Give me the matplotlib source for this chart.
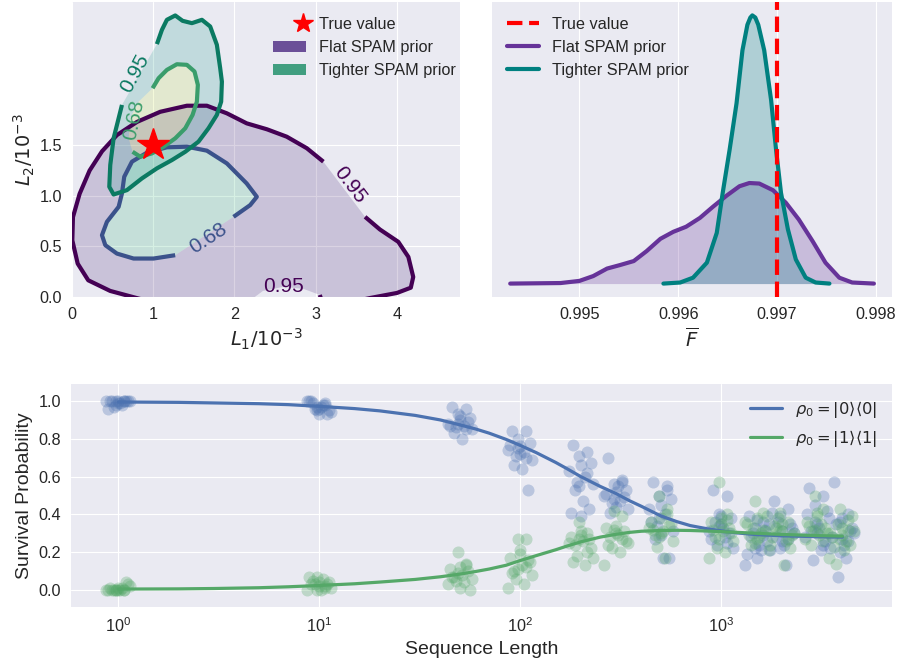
import matplotlib.pyplot as plt
import numpy as np
from matplotlib.path import Path
from matplotlib.patches import PathPatch, Patch
from matplotlib.lines import Line2D
from matplotlib.legend_handler import HandlerLine2D

plt.style.use("seaborn-v0_8-darkgrid")
plt.rcParams["font.family"] = ["Liberation Sans", "DejaVu Sans"]

# ---- credible regions (L1, L2 in units of 1e-3) ----
flat_95_L1 = [0.84, 0.47, 0.20, 0.07, 0.004, 0.012, 0.094, 0.217, 0.37, 0.553, 0.80, 1.086,
              1.414, 1.66, 1.906, 2.15, 2.40, 2.643, 2.89, 3.094, 3.607, 3.79, 4.016, 4.14,
              4.20, 4.17, 4.0, 3.67, 3.38, 3.07, 3.05, 2.85, 2.6, 2.35, 2.2, 1.6]
flat_95_L2 = [-0.02, 0.06, 0.165, 0.33, 0.56, 0.79, 1.02, 1.25, 1.44, 1.60, 1.73, 1.83,
              1.89, 1.89, 1.815, 1.716, 1.657, 1.584, 1.47, 1.337, 0.792, 0.667, 0.545, 0.396,
              0.198, 0.092, 0.04, -0.01, -0.06, -0.03, 0.02, 0.08, 0.10, 0.06, -0.03, -0.08]
flat_95_pieces = [(0, 19), (20, 30), (34, 36)]

flat_68_L1 = [1.27, 1.004, 0.758, 0.553, 0.41, 0.369, 0.43, 0.574, 0.615, 0.643, 0.738,
              0.922, 1.168, 1.414, 1.66, 1.906, 2.15, 2.275, 2.193, 1.988]
flat_68_L2 = [0.413, 0.38, 0.38, 0.429, 0.512, 0.611, 0.743, 0.891, 1.023, 1.188, 1.337,
              1.426, 1.479, 1.485, 1.446, 1.32, 1.122, 0.99, 0.908, 0.792]
flat_68_pieces = [(0, 19)]

tight_95_L1 = [1.045, 1.107, 1.168, 1.271, 1.361, 1.476, 1.599, 1.701, 1.783, 1.824, 1.845,
               1.836, 1.783, 1.680, 1.557, 1.394, 1.230, 1.045, 0.861, 0.676, 0.512, 0.459,
               0.471, 0.512, 0.574, 0.615]
tight_95_L2 = [2.499, 2.640, 2.739, 2.782, 2.729, 2.706, 2.739, 2.673, 2.492, 2.261, 2.128,
               1.930, 1.799, 1.667, 1.535, 1.435, 1.353, 1.271, 1.172, 1.056, 1.013, 1.089,
               1.304, 1.568, 1.766, 1.898]
tight_95_pieces = [(0, 25)]

tight_68_L1 = [0.992, 1.066, 1.168, 1.291, 1.414, 1.508, 1.549, 1.537, 1.484, 1.394, 1.271,
               1.127, 0.984, 0.840, 0.746, 0.697, 0.717, 0.820]
tight_68_L2 = [2.063, 2.162, 2.244, 2.300, 2.294, 2.228, 2.096, 1.930, 1.799, 1.667, 1.568,
               1.485, 1.419, 1.386, 1.435, 1.568, 1.766, 1.930]
tight_68_pieces = [(0, 14)]

# contour labels: text, L1, L2, rotation
flat_labels = [("0.95", 3.42, 1.105, -53), ("0.95", 2.60, 0.10, 0), ("0.68", 1.68, 0.578, 33)]
tight_labels = [("0.95", 0.77, 2.21, 62), ("0.68", 0.758, 1.749, 78)]
true_L1, true_L2 = 1.0, 1.5

# ---- average gate fidelity posteriors (density, scaled to the taller peak) ----
flat_F = [0.99430, 0.99481, 0.99500, 0.99514, 0.99528, 0.99541, 0.99555, 0.99568, 0.99582,
          0.99595, 0.99608, 0.99622, 0.99635, 0.99649, 0.99662, 0.99672, 0.99682, 0.99696,
          0.99709, 0.99722, 0.99736, 0.99749, 0.99763, 0.99776, 0.99798]
flat_dens = [0.0, 0.002, 0.01, 0.028, 0.056, 0.069, 0.084, 0.121, 0.167, 0.193, 0.212, 0.245,
             0.286, 0.328, 0.363, 0.375, 0.373, 0.348, 0.301, 0.239, 0.158, 0.078, 0.022,
             0.004, 0.0]
tight_F = [0.99585, 0.99602, 0.99615, 0.99629, 0.99639, 0.99645, 0.99652, 0.99659, 0.99665,
           0.99670, 0.99673, 0.99675, 0.99678, 0.99681, 0.99687, 0.99694, 0.99699, 0.99704,
           0.99711, 0.99719, 0.99729, 0.99739, 0.99753]
tight_dens = [0.0, 0.004, 0.022, 0.078, 0.189, 0.338, 0.499, 0.672, 0.870, 0.965, 0.992, 1.0,
              0.992, 0.965, 0.870, 0.684, 0.499, 0.338, 0.202, 0.090, 0.022, 0.004, 0.0]
true_F = 0.997

# ---- randomized benchmarking data ----
seq_lengths = [1, 10, 50, 100, 200, 300, 500, 1000, 1500, 2000, 3000, 4000]
surv_0 = [
    [1.0, 1.0, 1.0, 1.0, 0.99, 1.0, 0.98, 0.97, 1.0, 1.0, 0.99, 1.0, 0.96, 1.0, 1.0, 0.98],
    [1.0, 0.99, 0.97, 0.95, 0.93, 1.0, 0.98, 0.96, 0.94, 0.99, 0.97, 0.93, 1.0, 0.96, 0.98, 0.95],
    [0.97, 0.96, 0.93, 0.91, 0.90, 0.88, 0.87, 0.86, 0.85, 0.83, 0.80, 0.89, 0.87, 0.92, 0.85, 0.88],
    [0.84, 0.84, 0.80, 0.78, 0.76, 0.74, 0.73, 0.71, 0.69, 0.66, 0.64, 0.53, 0.77, 0.72, 0.70, 0.75],
    [0.77, 0.73, 0.71, 0.67, 0.66, 0.63, 0.60, 0.57, 0.56, 0.53, 0.47, 0.43, 0.41, 0.39, 0.62, 0.55],
    [0.70, 0.57, 0.56, 0.53, 0.52, 0.50, 0.47, 0.46, 0.43, 0.41, 0.55, 0.49, 0.51, 0.44, 0.58, 0.48],
    [0.57, 0.53, 0.50, 0.48, 0.45, 0.43, 0.40, 0.34, 0.31, 0.27, 0.17, 0.17, 0.36, 0.29, 0.55, 0.38],
    [0.53, 0.50, 0.40, 0.38, 0.35, 0.31, 0.28, 0.24, 0.22, 0.36, 0.33, 0.30, 0.27, 0.39, 0.25, 0.34],
    [0.39, 0.36, 0.33, 0.26, 0.17, 0.13, 0.21, 0.30, 0.35, 0.28, 0.24, 0.32, 0.19, 0.37, 0.29, 0.22],
    [0.47, 0.43, 0.39, 0.33, 0.26, 0.21, 0.13, 0.36, 0.30, 0.28, 0.24, 0.35, 0.41, 0.31, 0.27, 0.22],
    [0.54, 0.50, 0.45, 0.42, 0.35, 0.28, 0.21, 0.16, 0.38, 0.31, 0.33, 0.26, 0.40, 0.30, 0.24, 0.36],
    [0.57, 0.40, 0.36, 0.33, 0.27, 0.22, 0.17, 0.07, 0.30, 0.35, 0.24, 0.31, 0.28, 0.38, 0.26, 0.20],
]
surv_1 = [
    [0.0, 0.0, 0.01, 0.0, 0.04, 0.0, 0.0, 0.02, 0.0, 0.01, 0.0, 0.0, 0.03, 0.0, 0.0, 0.01],
    [0.0, 0.02, 0.04, 0.07, 0.03, 0.0, 0.05, 0.01, 0.03, 0.06, 0.0, 0.02, 0.04, 0.07, 0.01, 0.03],
    [0.20, 0.14, 0.12, 0.11, 0.10, 0.08, 0.07, 0.06, 0.05, 0.04, 0.03, 0.01, 0.0, 0.09, 0.13, 0.07],
    [0.27, 0.27, 0.21, 0.17, 0.16, 0.13, 0.10, 0.08, 0.06, 0.03, 0.01, 0.19, 0.15, 0.11, 0.12, 0.09],
    [0.36, 0.30, 0.31, 0.28, 0.27, 0.26, 0.24, 0.17, 0.18, 0.13, 0.25, 0.29, 0.22, 0.27, 0.20, 0.15],
    [0.42, 0.39, 0.34, 0.33, 0.31, 0.29, 0.28, 0.25, 0.22, 0.20, 0.13, 0.30, 0.26, 0.32, 0.27, 0.24],
    [0.50, 0.43, 0.38, 0.36, 0.34, 0.31, 0.29, 0.26, 0.23, 0.17, 0.33, 0.30, 0.35, 0.28, 0.40, 0.32],
    [0.57, 0.40, 0.38, 0.36, 0.33, 0.31, 0.28, 0.26, 0.22, 0.20, 0.17, 0.35, 0.30, 0.27, 0.37, 0.32],
    [0.47, 0.41, 0.38, 0.35, 0.31, 0.28, 0.24, 0.21, 0.33, 0.30, 0.36, 0.27, 0.39, 0.25, 0.32, 0.29],
    [0.41, 0.36, 0.31, 0.28, 0.22, 0.13, 0.33, 0.30, 0.38, 0.26, 0.24, 0.35, 0.29, 0.32, 0.27, 0.34],
    [0.50, 0.43, 0.41, 0.36, 0.33, 0.29, 0.24, 0.17, 0.31, 0.35, 0.27, 0.39, 0.30, 0.32, 0.26, 0.34],
    [0.43, 0.37, 0.33, 0.28, 0.24, 0.21, 0.14, 0.31, 0.35, 0.26, 0.30, 0.29, 0.39, 0.27, 0.32, 0.23],
]
fit_lengths = [1, 2, 3, 5, 7, 10, 15, 20, 30, 40, 50, 60, 70, 85, 100, 120, 150, 170, 200,
               250, 300, 350, 400, 500, 600, 700, 850, 1000, 1200, 1500, 2000, 3000, 4000]
fit_0 = [0.995, 0.993, 0.990, 0.986, 0.981, 0.972, 0.960, 0.948, 0.924, 0.900, 0.874, 0.852,
         0.830, 0.797, 0.765, 0.727, 0.675, 0.643, 0.600, 0.548, 0.510, 0.472, 0.443, 0.392,
         0.362, 0.341, 0.324, 0.313, 0.302, 0.293, 0.287, 0.282, 0.280]
fit_1 = [0.005, 0.006, 0.008, 0.012, 0.017, 0.024, 0.033, 0.042, 0.056, 0.070, 0.084, 0.098,
         0.111, 0.131, 0.156, 0.182, 0.213, 0.232, 0.255, 0.280, 0.295, 0.305, 0.311, 0.315,
         0.316, 0.315, 0.312, 0.309, 0.305, 0.300, 0.294, 0.288, 0.285]

# horizontal spread of the repeated sequences (decades)
JITTER = np.array([-0.04, 0.03, -0.01, 0.05, 0.00, -0.06, 0.02, -0.02,
                   0.06, -0.03, 0.01, 0.04, -0.05, 0.00, 0.03, -0.01])


class RightMarker(HandlerLine2D):
    def get_xdata(self, legend, xdescent, ydescent, width, height, fontsize):
        x = [-xdescent + 0.9 * width]
        return x, x


def ring_path(rings):
    verts, codes = [], []
    for k, (xs, ys) in enumerate(rings):
        pts = np.column_stack([xs, ys])
        x, y = pts[:, 0], pts[:, 1]
        area = 0.5 * np.sum(x * np.roll(y, -1) - np.roll(x, -1) * y)
        if (area > 0) != (k == 0):
            pts = pts[::-1]
        verts += list(pts) + [pts[0]]
        codes += [Path.MOVETO] + [Path.LINETO] * (len(pts) - 1) + [Path.CLOSEPOLY]
    return Path(verts, codes)


def draw_contour(ax, xs, ys, pieces, color):
    n = len(xs)
    for a, b in pieces:
        idx = [i % n for i in range(a, b + 1)]
        ax.plot([xs[i] for i in idx], [ys[i] for i in idx], color=color, lw=3,
                solid_capstyle="butt", zorder=4)


FS = 11.7
fig = plt.figure(figsize=(9.01, 6.65), dpi=100)
ax1 = fig.add_axes([0.0799, 0.5534, 0.4306, 0.4436])
ax2 = fig.add_axes([0.5461, 0.5534, 0.4440, 0.4436])
ax3 = fig.add_axes([0.0788, 0.0872, 0.9112, 0.3353])

# --- top left: joint credible regions ---
ax1.add_patch(PathPatch(ring_path([(flat_95_L1, flat_95_L2), (flat_68_L1, flat_68_L2)]),
                        fc="#482475", alpha=0.2, lw=0, zorder=2))
ax1.add_patch(PathPatch(ring_path([(flat_68_L1, flat_68_L2)]),
                        fc="#35b779", alpha=0.2, lw=0, zorder=2))
ax1.add_patch(PathPatch(ring_path([(tight_95_L1, tight_95_L2), (tight_68_L1, tight_68_L2)]),
                        fc="#1f9e89", alpha=0.2, lw=0, zorder=3))
ax1.add_patch(PathPatch(ring_path([(tight_68_L1, tight_68_L2)]),
                        fc="#bddf26", alpha=0.17, lw=0, zorder=3))
draw_contour(ax1, flat_95_L1, flat_95_L2, flat_95_pieces, "#440154")
draw_contour(ax1, flat_68_L1, flat_68_L2, flat_68_pieces, "#3b528b")
draw_contour(ax1, tight_95_L1, tight_95_L2, tight_95_pieces, "#0b7a62")
draw_contour(ax1, tight_68_L1, tight_68_L2, tight_68_pieces, "#3a9d6b")
for (txt, x, y, rot), c in zip(flat_labels, ["#440154", "#440154", "#3b528b"]):
    ax1.text(x, y, txt, color=c, fontsize=15, rotation=rot, ha="center", va="center",
             rotation_mode="anchor", zorder=5)
for (txt, x, y, rot), c in zip(tight_labels, ["#0b7a62", "#3a9d6b"]):
    ax1.text(x, y, txt, color=c, fontsize=15, rotation=rot, ha="center", va="center",
             rotation_mode="anchor", zorder=5)
ax1.plot(true_L1, true_L2, marker="*", color="red", ms=24, ls="", zorder=6)
ax1.set_xlim(0, 4.775)
ax1.set_ylim(0, 2.915)
ax1.set_xticks([0, 1, 2, 3, 4])
ax1.set_yticks([0, 0.5, 1.0, 1.5])
ax1.set_xlabel("$L_1/10^{-3}$", fontsize=14)
ax1.set_ylabel("$L_2/10^{-3}$", fontsize=14, labelpad=2)
star = Line2D([], [], marker="*", color="red", ls="", ms=15)
handles1 = [star, Patch(fc="#6b4f98", ec="none"), Patch(fc="#419e80", ec="none")]
ax1.legend(handles1, ["True value", "Flat SPAM prior", "Tighter SPAM prior"],
           loc="upper right", bbox_to_anchor=(1.006, 0.972), borderaxespad=0,
           fontsize=FS, frameon=False, handler_map={star: RightMarker()})

# --- top right: fidelity posteriors ---
ax2.fill_between(flat_F, flat_dens, color="#663399", alpha=0.25, lw=0)
ax2.fill_between(tight_F, tight_dens, color="#008080", alpha=0.25, lw=0)
ax2.plot(flat_F, flat_dens, color="#663399", lw=3, label="Flat SPAM prior")
ax2.plot(tight_F, tight_dens, color="#008080", lw=3, label="Tighter SPAM prior")
ax2.axvline(true_F, color="red", ls="--", lw=3, label="True value", zorder=5)
ax2.set_xticks([0.995, 0.996, 0.997, 0.998], ["0.995", "0.996", "0.997", "0.998"])
ax2.set_yticks([])
ax2.set_xlabel(r"$\overline{F}$", fontsize=14)
h, l = ax2.get_legend_handles_labels()
ax2.legend([h[2], h[0], h[1]], [l[2], l[0], l[1]], loc="upper left", fontsize=FS,
           frameon=False)

# --- bottom: survival probabilities ---
for m, s0, s1 in zip(seq_lengths, surv_0, surv_1):
    ax3.scatter(m * 10 ** JITTER[:len(s0)], s0, s=75, color="#4C72B0", alpha=0.3, lw=0)
    ax3.scatter(m * 10 ** JITTER[::-1][:len(s1)], s1, s=75, color="#55A868", alpha=0.3, lw=0)
ax3.plot(fit_lengths, fit_0, color="#4C72B0", lw=2.3, label=r"$\rho_0 = |0\rangle\langle 0|$")
ax3.plot(fit_lengths, fit_1, color="#55A868", lw=2.3, label=r"$\rho_0 = |1\rangle\langle 1|$")
ax3.set_xscale("log")
ax3.set_xlim(0.582, 7060)
ax3.set_ylim(-0.09, 1.09)
ax3.set_yticks([0.0, 0.2, 0.4, 0.6, 0.8, 1.0])
ax3.minorticks_off()
ax3.set_xlabel("Sequence Length", fontsize=14)
ax3.set_ylabel("Survival Probability", fontsize=14)
ax3.legend(loc="upper right", fontsize=FS, frameon=False)

for ax in (ax1, ax2, ax3):
    ax.tick_params(labelsize=FS, pad=7)

fig.savefig("out.png", dpi=100)
